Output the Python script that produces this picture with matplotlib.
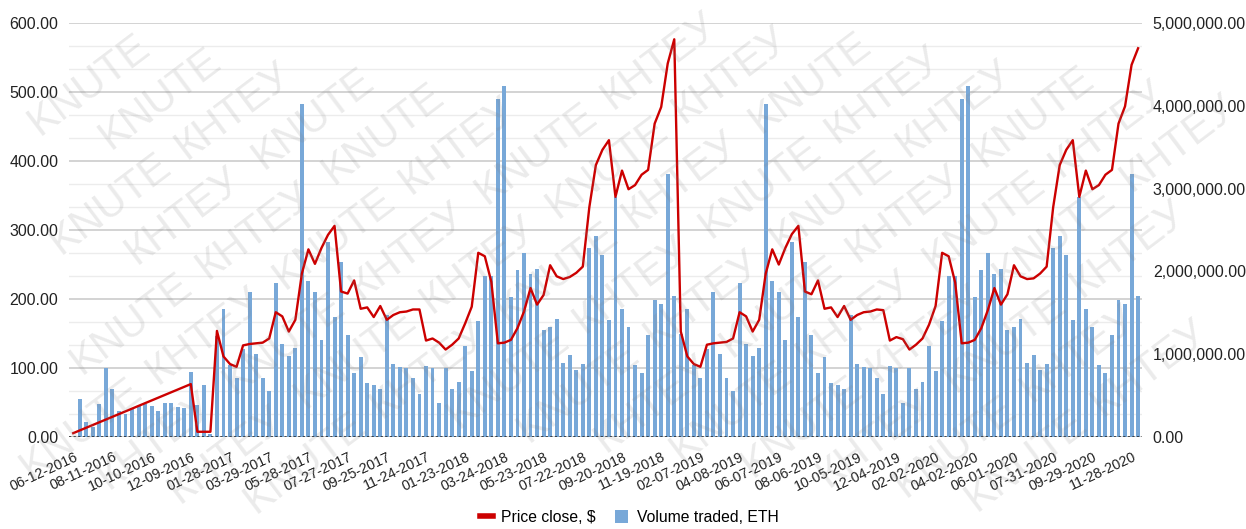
import matplotlib.pyplot as plt
from matplotlib.lines import Line2D
from matplotlib.patches import Patch
import numpy as np

plt.rcParams['font.family'] = ['Liberation Sans', 'DejaVu Sans']

# date labels shown under the axis (every 6th point)
tick_labels = ['06-12-2016', '08-11-2016', '10-10-2016', '12-09-2016', '01-28-2017',
               '03-29-2017', '05-28-2017', '07-27-2017', '09-25-2017', '11-24-2017',
               '01-23-2018', '03-24-2018', '05-23-2018', '07-22-2018', '09-20-2018',
               '11-19-2018', '02-07-2019', '04-08-2019', '06-07-2019', '08-06-2019',
               '10-05-2019', '12-04-2019', '02-02-2020', '04-02-2020', '06-01-2020',
               '07-31-2020', '09-29-2020', '11-28-2020']

# volume traded, millions of ETH
volume_m = [0.00,
            0.46, 0.19, 0.12, 0.40, 0.83, 0.58, 0.32, 0.28, 0.35, 0.38,
            0.40, 0.38, 0.32, 0.41, 0.41, 0.37, 0.35, 0.79, 0.39, 0.63, 0.04,
            1.22, 1.55, 0.87, 0.72, 1.07, 1.75, 1.00, 0.71, 0.56, 1.86,
            1.12, 0.98, 1.08, 4.02, 1.88, 1.75, 1.17, 2.36, 1.45, 2.11,
            1.23, 0.78, 0.97, 0.65, 0.63, 0.58, 1.47, 0.89, 0.85, 0.83, 0.72,
            0.52, 0.86, 0.83, 0.41, 0.83, 0.58, 0.67, 1.10, 0.80, 1.40,
            1.94, 1.95, 4.08, 4.24, 1.69, 2.02, 2.22, 1.97, 2.03, 1.29,
            1.33, 1.43, 0.90, 0.99, 0.81, 0.89, 2.28, 2.43, 2.20, 1.41,
            2.90, 1.55, 1.33, 0.87, 0.77, 1.23, 1.65, 1.61, 3.17, 1.71,
            1.25, 1.55, 0.87, 0.72, 1.07, 1.75, 1.00, 0.71, 0.56, 1.86,
            1.12, 0.98, 1.08, 4.02, 1.88, 1.75, 1.17, 2.36, 1.45, 2.11,
            1.23, 0.78, 0.97, 0.65, 0.63, 0.58, 1.47, 0.89, 0.85, 0.83, 0.72,
            0.52, 0.86, 0.83, 0.41, 0.83, 0.58, 0.67, 1.10, 0.80, 1.40,
            1.94, 1.95, 4.08, 4.24, 1.69, 2.02, 2.22, 1.97, 2.03, 1.29,
            1.33, 1.43, 0.90, 0.99, 0.81, 0.89, 2.28, 2.43, 2.20, 1.41,
            2.90, 1.55, 1.33, 0.87, 0.77, 1.23, 1.65, 1.61, 3.17, 1.71]

# price close, $ (None = no value, line joins across)
price = [6] + [None] * 17 + [77, 8, 8, 8,
         154, 117, 106, 102, 133, 135, 136, 137, 143, 181,
         175, 153, 170, 237, 272, 251, 274, 293, 306, 211,
         208, 227, 186, 188, 174, 190, 170, 177, 181, 182, 185,
         185, 140, 143, 137, 127, 134, 143, 165, 189, 267,
         262, 225, 136, 137, 141, 158, 182, 216, 192, 206,
         249, 233, 229, 232, 238, 247, 333, 394, 416, 430,
         348, 386, 359, 365, 380, 387, 454, 478, 541, 576,
         153, 117, 106, 102, 134, 136, 137, 138, 143, 181,
         175, 153, 170, 237, 272, 250, 274, 294, 306, 211,
         207, 227, 186, 188, 174, 190, 170, 177, 181, 182, 185,
         184, 140, 145, 142, 127, 134, 143, 163, 190, 267,
         262, 224, 136, 137, 141, 158, 184, 216, 192, 207,
         249, 233, 229, 230, 237, 247, 333, 394, 416, 430,
         348, 386, 359, 365, 380, 387, 454, 479, 539, 563]

watermark_words = ['KNUTE', 'КНТЕУ']

volume = np.array(volume_m) * 1e6
price_arr = np.array([np.nan if p is None else p for p in price], dtype=float)
x = np.arange(len(volume))
valid = ~np.isnan(price_arr)

W, H = 1246, 529
fig = plt.figure(figsize=(W / 100, H / 100), dpi=100)
ax_vol = fig.add_axes([69.3 / W, 1 - 437.3 / H, (1141.7 - 69.3) / W, (437.3 - 22.7) / H])
ax_price = ax_vol.twinx()

# gridlines follow the price scale (major every 100, minor every 33.3)
for i, p in enumerate(np.linspace(0, 600, 19)):
    if i % 3 == 0:
        ax_vol.axhline(p / 600 * 5e6, color='#c8c8c8', lw=1.1, zorder=0)
    else:
        ax_vol.axhline(p / 600 * 5e6, color='#ececec', lw=1.0, zorder=0)

ax_vol.bar(x, volume, width=0.6, color='#78a8d8', zorder=2)
ax_vol.axhline(0, color='#222222', lw=1.1, ls=(0, (1.5, 1.5)), zorder=3)
ax_price.plot(x[valid], price_arr[valid], color='#cc0000', lw=1.7, zorder=3)

ax_vol.set_xlim(-0.6, len(x) - 0.45)
ax_vol.set_ylim(0, 5e6)
ax_price.set_ylim(0, 600)

# price on the left, volume on the right
ax_vol.yaxis.tick_right()
ax_price.yaxis.tick_left()
ax_price.set_yticks(np.arange(0, 601, 100))
ax_price.set_yticklabels([f'{v:.2f}' for v in np.arange(0, 601, 100)])
vt = np.arange(0, 5e6 + 1, 1e6)
ax_vol.set_yticks(vt)
ax_vol.set_yticklabels([f'{v:,.2f}' for v in vt])
ax_price.tick_params(axis='y', length=0, pad=8, labelsize=11.5, labelcolor='#222222')
ax_vol.tick_params(axis='y', length=0, pad=8, labelsize=11.5, labelcolor='#222222')

ax_vol.set_xticks(x[1::6])
ax_vol.set_xticklabels(tick_labels, rotation=25, ha='right', fontsize=10.3, color='#222222')
ax_vol.tick_params(axis='x', length=0, pad=9)

for ax in (ax_vol, ax_price):
    for s in ax.spines.values():
        s.set_visible(False)
    ax.patch.set_visible(False)

handles = [Line2D([0], [0], color='#cc0000', lw=4),
           Patch(facecolor='#78a8d8', edgecolor='none')]
fig.legend(handles, ['Price close, $', 'Volume traded, ETH'], loc='center',
           bbox_to_anchor=(0.505, 0.021), ncol=2, frameon=False, fontsize=11.3,
           handlelength=0.8, handleheight=0.9, columnspacing=1.25, handletextpad=0.55)

# watermark: diagonal rows of words, only whole words kept inside the picture
ang = np.deg2rad(37)
u = np.array([np.cos(ang), np.sin(ang)])
n = np.array([np.sin(ang), -np.cos(ang)])
wm = []
for r, c in enumerate(np.arange(-560, 800, 54)):
    for k in range(-12, 12):
        p0 = c * n + (k * 158 + (r % 3) * 55) * u
        t = fig.text(p0[0] / W, p0[1] / H, watermark_words[(k + r) % 2], rotation=37,
                     rotation_mode='anchor', ha='left', va='baseline', fontsize=30,
                     color='#808080', alpha=0.16, zorder=10)
        wm.append(t)

fig.canvas.draw()
r = fig.canvas.get_renderer()
for t in wm:
    bb = t.get_window_extent(r)
    if bb.x0 < 0 or bb.y0 < 0 or bb.x1 > W or bb.y1 > H:
        t.remove()

fig.savefig('out.png', dpi=100)
